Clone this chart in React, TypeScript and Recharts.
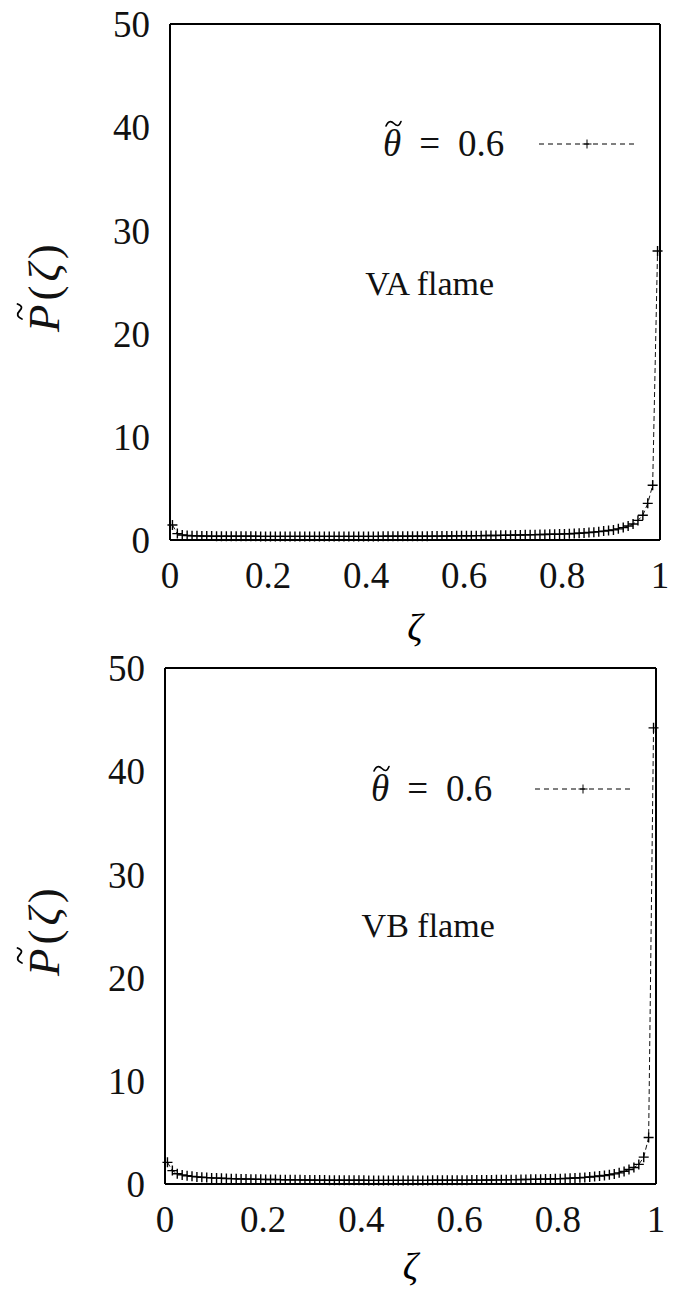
import React from 'react';
import { LineChart, Line, XAxis, YAxis, Legend, ReferenceDot, Label } from 'recharts';

// Mixture-fraction grid (bin centres)
const zeta = [
  0.005, 0.015, 0.025, 0.035, 0.045, 0.055, 0.065, 0.075, 0.085, 0.095,
  0.105, 0.115, 0.125, 0.135, 0.145, 0.155, 0.165, 0.175, 0.185, 0.195,
  0.205, 0.215, 0.225, 0.235, 0.245, 0.255, 0.265, 0.275, 0.285, 0.295,
  0.305, 0.315, 0.325, 0.335, 0.345, 0.355, 0.365, 0.375, 0.385, 0.395,
  0.405, 0.415, 0.425, 0.435, 0.445, 0.455, 0.465, 0.475, 0.485, 0.495,
  0.505, 0.515, 0.525, 0.535, 0.545, 0.555, 0.565, 0.575, 0.585, 0.595,
  0.605, 0.615, 0.625, 0.635, 0.645, 0.655, 0.665, 0.675, 0.685, 0.695,
  0.705, 0.715, 0.725, 0.735, 0.745, 0.755, 0.765, 0.775, 0.785, 0.795,
  0.805, 0.815, 0.825, 0.835, 0.845, 0.855, 0.865, 0.875, 0.885, 0.895,
  0.905, 0.915, 0.925, 0.935, 0.945, 0.955, 0.965, 0.975, 0.985, 0.995,
];

// PDF of zeta, VA flame
const pdfVA = [
  1.45, 0.62, 0.48, 0.43, 0.41, 0.40, 0.39, 0.38, 0.38, 0.37,
  0.37, 0.37, 0.36, 0.36, 0.36, 0.36, 0.36, 0.36, 0.35, 0.35,
  0.35, 0.35, 0.35, 0.35, 0.35, 0.35, 0.35, 0.35, 0.35, 0.35,
  0.35, 0.35, 0.35, 0.35, 0.35, 0.35, 0.35, 0.35, 0.35, 0.35,
  0.35, 0.35, 0.35, 0.36, 0.36, 0.36, 0.36, 0.36, 0.36, 0.37,
  0.37, 0.37, 0.37, 0.38, 0.38, 0.38, 0.39, 0.39, 0.40, 0.40,
  0.41, 0.41, 0.42, 0.42, 0.43, 0.44, 0.44, 0.45, 0.46, 0.47,
  0.48, 0.49, 0.50, 0.51, 0.52, 0.53, 0.54, 0.55, 0.56, 0.57,
  0.59, 0.61, 0.63, 0.66, 0.69, 0.72, 0.76, 0.81, 0.86, 0.92,
  0.98, 1.08, 1.20, 1.35, 1.55, 1.90, 2.40, 3.55, 5.30, 28.0,
];

// PDF of zeta, VB flame
const pdfVB = [
  2.10, 1.30, 1.00, 0.88, 0.80, 0.74, 0.69, 0.65, 0.62, 0.59,
  0.57, 0.55, 0.53, 0.52, 0.50, 0.49, 0.48, 0.47, 0.46, 0.45,
  0.44, 0.43, 0.43, 0.42, 0.41, 0.41, 0.40, 0.40, 0.39, 0.39,
  0.38, 0.38, 0.38, 0.37, 0.37, 0.37, 0.36, 0.36, 0.36, 0.36,
  0.36, 0.35, 0.35, 0.35, 0.35, 0.35, 0.35, 0.35, 0.35, 0.35,
  0.35, 0.35, 0.35, 0.35, 0.36, 0.36, 0.36, 0.36, 0.36, 0.37,
  0.37, 0.37, 0.38, 0.38, 0.38, 0.39, 0.39, 0.40, 0.40, 0.41,
  0.42, 0.42, 0.43, 0.44, 0.45, 0.46, 0.47, 0.48, 0.49, 0.51,
  0.52, 0.54, 0.56, 0.58, 0.61, 0.64, 0.68, 0.72, 0.77, 0.83,
  0.90, 0.98, 1.08, 1.22, 1.40, 1.60, 1.90, 2.60, 4.50, 44.2,
];

const xTicks = [0, 0.2, 0.4, 0.6, 0.8, 1];
const yTicks = [0, 10, 20, 30, 40, 50];
const thetaValue = '0.6';

const FONT = "'Liberation Serif', 'Times New Roman', serif";
const TICK_LEN = 10;

// small tilde accent drawn as a path
const TILDE_PATH = 'M1,7 C3,2 6,1.5 9,4.5 S14,7.5 16,2.5';

const Cross = (props: any) => {
  const { cx, cy, index } = props;
  if (cx == null || cy == null) return <g key={`c${index}`} />;
  const h = 5;
  return (
    <path
      key={`c${index}`}
      d={`M${cx - h},${cy}H${cx + h}M${cx},${cy - h}V${cy + h}`}
      stroke="#000"
      strokeWidth={1.4}
      fill="none"
    />
  );
};

const YTitle = (props: any) => {
  const vb = props.viewBox || {};
  const cx = (vb.x ?? 0) + 44;
  const cy = (vb.y ?? 0) + (vb.height ?? 0) / 2;
  const fs = 45;
  return (
    <g transform={`translate(${cx},${cy}) rotate(-90)`}>
      <text
        x={-50}
        y={15}
        textAnchor="start"
        fontFamily={FONT}
        fontSize={fs}
        letterSpacing={4}
        fill="#111"
        style={{ fontFamily: FONT }}
      >
        <tspan fontStyle="italic">P</tspan>
        <tspan>(</tspan>
        <tspan fontStyle="italic">ζ</tspan>
        <tspan>)</tspan>
      </text>
      <path
        d={TILDE_PATH}
        transform="translate(-38,-29)"
        stroke="#000"
        strokeWidth={1.8}
        fill="none"
        strokeLinecap="round"
      />
    </g>
  );
};

const makeXTitle = (baselineOffset: number) => (props: any) => {
  const vb = props.viewBox || {};
  const cx = (vb.x ?? 0) + (vb.width ?? 0) / 2;
  const y = (vb.y ?? 0) + baselineOffset;
  return (
    <text
      x={cx}
      y={y}
      textAnchor="middle"
      fontFamily={FONT}
      fontSize={38}
      fontStyle="italic"
      fill="#000"
      style={{ fontFamily: FONT }}
    >
      ζ
    </text>
  );
};

const LegendKey = ({ gap }: { gap: number }) => (
  <div
    style={{
      display: 'flex',
      alignItems: 'center',
      fontFamily: FONT,
      fontSize: 37,
      color: '#111',
      whiteSpace: 'nowrap',
      lineHeight: 'normal',
    }}
  >
    <span style={{ position: 'relative', fontStyle: 'italic', display: 'inline-block' }}>
      θ
      <svg width={18} height={10} style={{ position: 'absolute', left: 2, top: -3 }}>
        <path d={TILDE_PATH} stroke="#000" strokeWidth={1.6} fill="none" strokeLinecap="round" />
      </svg>
    </span>
    <span style={{ margin: '0 18px' }}>=</span>
    <span>{thetaValue}</span>
    <svg width={100} height={20} style={{ marginLeft: gap }}>
      <line x1={1} y1={10} x2={97} y2={10} stroke="#000" strokeWidth={1} strokeDasharray="5 4" />
      <path d="M49,5.5V14.5M44.5,10H53.5" stroke="#000" strokeWidth={1} fill="none" />
    </svg>
  </div>
);

type PanelProps = {
  values: number[];
  title: string;
  titleAt: { x: number; y: number };
  margin: { top: number; right: number; bottom: number; left: number };
  yAxisWidth: number;
  xAxisHeight: number;
  xTitleOffset: number;
  legendPos: { left: number; top: number };
  legendGap: number;
};

const Panel = (p: PanelProps) => {
  const data = zeta.map((z, i) => ({ zeta: z, pdf: p.values[i] }));
  const axisLine = { stroke: '#000', strokeWidth: 2 };
  const tickLine = { stroke: '#000', strokeWidth: 1.2 };
  const tickFont = { fontSize: 37, fontFamily: FONT, fill: '#111' };
  return (
    <LineChart width={676} height={648} data={data} margin={p.margin} style={{ fontFamily: FONT }}>
      {/* labelled bottom axis */}
      <XAxis
        xAxisId="b"
        dataKey="zeta"
        type="number"
        domain={[0, 1]}
        ticks={xTicks}
        height={p.xAxisHeight}
        axisLine={axisLine}
        tickLine={false}
        tickSize={0}
        tickMargin={22}
        tick={tickFont}
        interval={0}
      >
        <Label content={makeXTitle(p.xTitleOffset)} />
      </XAxis>
      {/* inward ticks along the bottom edge */}
      <XAxis
        xAxisId="bm"
        dataKey="zeta"
        type="number"
        domain={[0, 1]}
        ticks={xTicks}
        orientation="bottom"
        mirror
        height={TICK_LEN}
        axisLine={false}
        tickLine={tickLine}
        tickSize={TICK_LEN}
        tick={false}
        interval={0}
      />
      {/* top frame edge with inward ticks */}
      <XAxis
        xAxisId="t"
        dataKey="zeta"
        type="number"
        domain={[0, 1]}
        ticks={xTicks}
        orientation="top"
        mirror
        height={TICK_LEN}
        axisLine={axisLine}
        tickLine={tickLine}
        tickSize={TICK_LEN}
        tick={false}
        interval={0}
      />
      {/* labelled left axis */}
      <YAxis
        yAxisId="l"
        type="number"
        domain={[0, 50]}
        ticks={yTicks}
        width={p.yAxisWidth}
        axisLine={axisLine}
        tickLine={false}
        tickSize={0}
        tickMargin={20}
        tick={tickFont}
        interval={0}
      >
        <Label content={YTitle} />
      </YAxis>
      {/* inward ticks along the left edge */}
      <YAxis
        yAxisId="lm"
        type="number"
        domain={[0, 50]}
        ticks={yTicks}
        orientation="left"
        mirror
        width={TICK_LEN}
        axisLine={false}
        tickLine={tickLine}
        tickSize={TICK_LEN}
        tick={false}
        interval={0}
      />
      {/* right frame edge with inward ticks */}
      <YAxis
        yAxisId="r"
        type="number"
        domain={[0, 50]}
        ticks={yTicks}
        orientation="right"
        mirror
        width={TICK_LEN}
        axisLine={axisLine}
        tickLine={tickLine}
        tickSize={TICK_LEN}
        tick={false}
        interval={0}
      />
      <ReferenceDot
        xAxisId="b"
        yAxisId="l"
        x={p.titleAt.x}
        y={p.titleAt.y}
        r={0}
        fill="none"
        stroke="none"
        label={{ value: p.title, position: 'center', fontSize: 34, fontFamily: FONT, fill: '#111' }}
      />
      <Legend
        layout="horizontal"
        verticalAlign="middle"
        align="center"
        wrapperStyle={{ position: 'absolute', left: p.legendPos.left, top: p.legendPos.top, width: 'auto', fontFamily: FONT }}
        content={() => <LegendKey gap={p.legendGap} />}
      />
      <Line
        xAxisId="b"
        yAxisId="l"
        type="linear"
        dataKey="pdf"
        name={`θ = ${thetaValue}`}
        stroke="#111"
        strokeWidth={1}
        strokeDasharray="5 3"
        dot={Cross}
        activeDot={false}
        isAnimationActive={false}
      />
    </LineChart>
  );
};

export default function App() {
  return (
    <div
      style={{
        position: 'absolute',
        left: 0,
        top: 0,
        width: 676,
        height: 1296,
        background: '#fff',
        fontFamily: FONT,
      }}
    >
      <Panel
        values={pdfVA}
        title="VA flame"
        titleAt={{ x: 0.53, y: 24.9 }}
        margin={{ top: 24, right: 16, bottom: 0, left: 0 }}
        yAxisWidth={170}
        xAxisHeight={108}
        xTitleOffset={100}
        legendPos={{ left: 383, top: 122 }}
        legendGap={34}
      />
      <Panel
        values={pdfVB}
        title="VB flame"
        titleAt={{ x: 0.536, y: 25.1 }}
        margin={{ top: 20, right: 20, bottom: 0, left: 0 }}
        yAxisWidth={165}
        xAxisHeight={112}
        xTitleOffset={95}
        legendPos={{ left: 371, top: 119 }}
        legendGap={42}
      />
    </div>
  );
}
